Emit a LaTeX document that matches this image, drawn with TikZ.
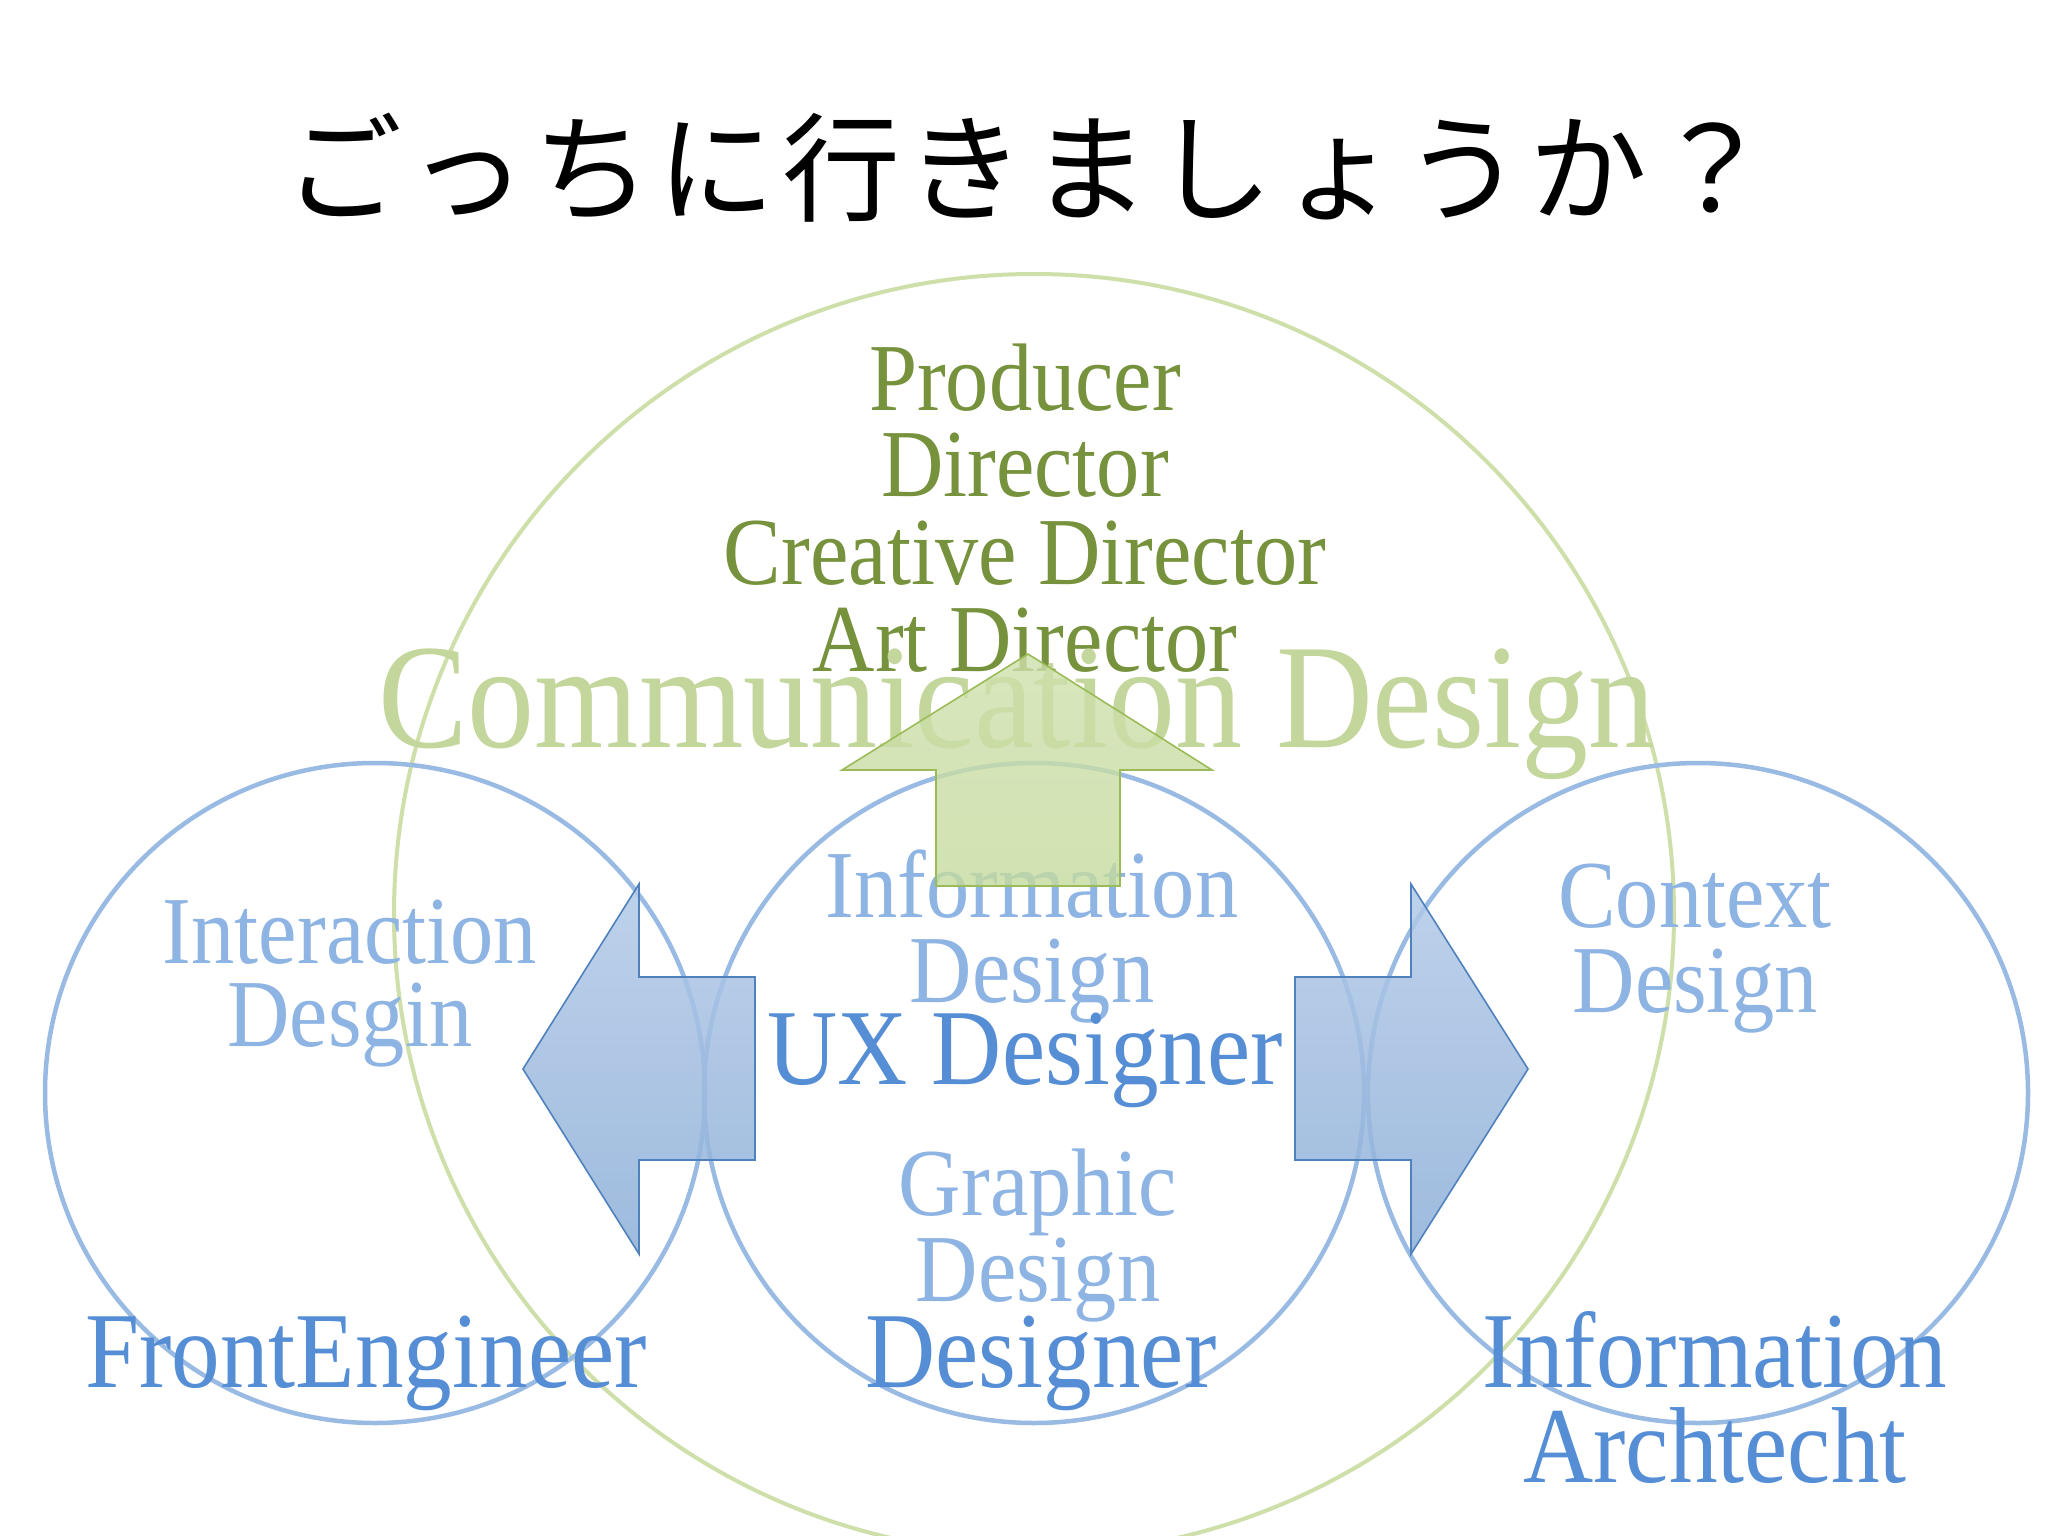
\documentclass[tikz,border=0pt]{standalone}
\usepackage{fontspec}
\setmainfont{Liberation Serif}[FakeStretch=0.9]
\newfontfamily\cjk{Noto Sans CJK JP}
\definecolor{olivetxt}{HTML}{76923C}
\definecolor{commtxt}{HTML}{C3D69B}
\definecolor{gcirc}{HTML}{CFDFAA}
\definecolor{bcirc}{HTML}{98BAE3}
\definecolor{bdark}{HTML}{558ED5}
\definecolor{blight}{HTML}{8EB4E3}
\definecolor{arrline}{HTML}{4F81BD}
\definecolor{arrtop}{HTML}{B3CAE8}
\definecolor{arrbot}{HTML}{8DAFD8}
\definecolor{uparrline}{HTML}{9BBB59}
\definecolor{uparrfill}{HTML}{C6DB9E}
\tikzset{
  gcircle/.style={circle, draw=gcirc, line width=4pt, inner sep=0pt, minimum size=1280pt},
  bcircle/.style={circle, draw=bcirc, line width=4.5pt, inner sep=0pt, minimum size=660pt},
  titlech/.style={font=\cjk\fontsize{118}{120}\selectfont, anchor=base, inner sep=0pt},
  roletxt/.style={text=olivetxt, font=\fontsize{96}{100}\selectfont, anchor=base, inner sep=0pt},
  commlbl/.style={text=commtxt, font=\fontsize{149}{150}\selectfont, anchor=base, inner sep=0pt},
  areatxt/.style={text=blight, font=\fontsize{96}{100}\selectfont, anchor=base, inner sep=0pt},
  jobtxt/.style={text=bdark, font=\fontsize{108}{110}\selectfont, anchor=base, inner sep=0pt},
  sidearrow/.style={draw=arrline, line width=1.6pt, top color=arrtop, bottom color=arrbot, fill opacity=0.85, line join=miter},
  uparrow/.style={draw=uparrline, line width=1.6pt, top color=uparrfill!85!white, bottom color=uparrfill, fill opacity=0.8, line join=miter}
}
\begin{document}
\begin{tikzpicture}[x=1pt,y=-1pt]
\useasboundingbox (0,0) rectangle (2048,1536);
\clip (0,0) rectangle (2048,1536);
\fill[white] (0,0) rectangle (2048,1536);

% title
\foreach \c [count=\i from 0] in {ご,っ,ち,に,行,き,ま,し,ょ,う,か,？}
  \node[titlech] (t\i) at (343+124.5*\i, 212) {\c};

% circles
\node[gcircle] (comm) at (1034,914) {};
\node[bcircle] (left) at (375,1093) {};
\node[bcircle] (mid) at (1034,1093) {};
\node[bcircle] (right) at (1698,1093) {};

% communication design area
\node[roletxt] (prod) at (1025,410) {Producer};
\node[roletxt] (dir) at (1025,496) {Director};
\node[roletxt] (cdir) at (1025,584) {Creative Director};
\node[roletxt] (adir) at (1025,671) {Art Director};
\node[commlbl] (commlab) at (1017,747) {Communication Design};

% middle circle
\node[areatxt] (info1) at (1032,917) {Information};
\node[areatxt] (info2) at (1032,1002) {Design};
\node[jobtxt] (ux) at (1025,1084) {UX Designer};
\node[areatxt] (gra1) at (1038,1215) {Graphic};
\node[areatxt] (gra2) at (1038,1301) {Design};
\node[jobtxt] (des) at (1041,1387) {Designer};

% left circle
\node[areatxt] (int1) at (350,963) {Interaction};
\node[areatxt] (int2) at (350,1046) {Desgin};
\node[jobtxt] (front) at (366,1387) {FrontEngineer};

% right circle
\node[areatxt] (ctx1) at (1695,927) {Context};
\node[areatxt] (ctx2) at (1695,1012) {Design};
\node[jobtxt] (ia1) at (1715,1387) {Information};
\node[jobtxt] (ia2) at (1715,1482) {Archtecht};

% arrows
\path[sidearrow] (523,1069) -- (639,884) -- (639,977) -- (755,977) -- (755,1160) -- (639,1160) -- (639,1254) -- cycle;
\path[sidearrow] (1295,977) -- (1411,977) -- (1411,884) -- (1528,1069) -- (1411,1254) -- (1411,1160) -- (1295,1160) -- cycle;
\path[uparrow] (1028,654) -- (1212,770) -- (1120,770) -- (1120,886) -- (936,886) -- (936,770) -- (842,770) -- cycle;
\end{tikzpicture}
\end{document}
